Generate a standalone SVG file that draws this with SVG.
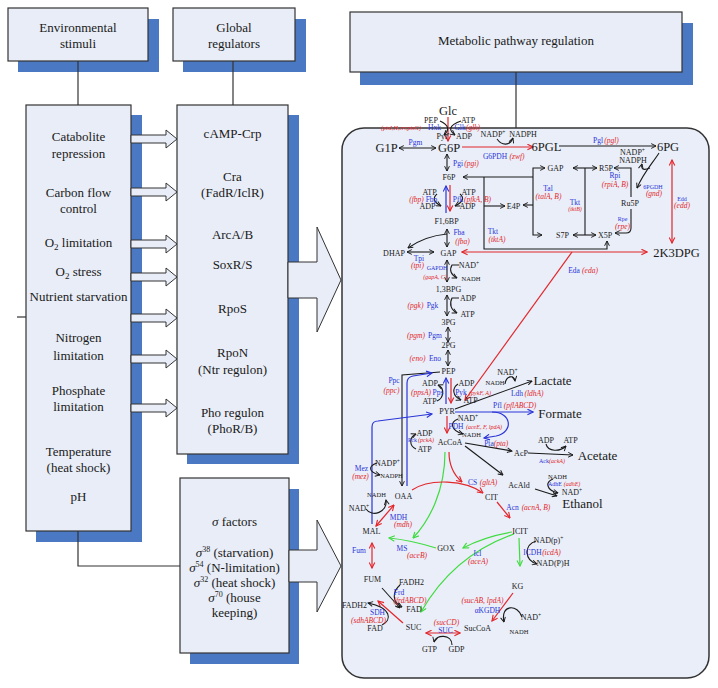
<svg xmlns="http://www.w3.org/2000/svg" width="718" height="688" viewBox="0 0 718 688" font-family="'Liberation Serif', 'DejaVu Serif', serif">
<defs>
<style>
text{font-family:'Liberation Serif','DejaVu Serif',serif;fill:#1a1a1a;text-anchor:middle}
.L{font-size:13px}
.B{font-size:12.5px}
.X{font-size:13px}
.m{font-size:8px}
.s{font-size:6.5px}
.e{font-size:7.5px;fill:#2b35d8}
.es{font-size:6px;fill:#2b35d8}
.g{font-size:7.5px;fill:#e3262b;font-style:italic}
.gs{font-size:6px;fill:#e3262b;font-style:italic}
.box{fill:#e8edf7;stroke:#333;stroke-width:1.2}
.sh{fill:#4a78c2}
.panel{fill:#e9eef8;stroke:#333;stroke-width:1.5}
.ln{stroke:#333;stroke-width:1.2;fill:none}
.k{stroke:#1a1a1a;stroke-width:1.1;fill:none}
.r{stroke:#e3262b;stroke-width:1.2;fill:none}
.b{stroke:#2b35d8;stroke-width:1.2;fill:none}
.gr{stroke:#3fdc3f;stroke-width:1.2;fill:none}
.ha{fill:#e8edf7;stroke:#333;stroke-width:1}
</style>
<marker id="ak" viewBox="0 0 10 10" refX="9" refY="5" markerWidth="6" markerHeight="6" orient="auto-start-reverse" markerUnits="userSpaceOnUse"><path d="M1,1 L9,5 L1,9" fill="none" stroke="#1a1a1a" stroke-width="1.6"/></marker>
<marker id="ar" viewBox="0 0 10 10" refX="9" refY="5" markerWidth="7" markerHeight="7" orient="auto-start-reverse" markerUnits="userSpaceOnUse"><path d="M1,1 L9,5 L1,9" fill="none" stroke="#e3262b" stroke-width="1.6"/></marker>
<marker id="ab" viewBox="0 0 10 10" refX="9" refY="5" markerWidth="7" markerHeight="7" orient="auto-start-reverse" markerUnits="userSpaceOnUse"><path d="M1,1 L9,5 L1,9" fill="none" stroke="#2b35d8" stroke-width="1.6"/></marker>
<marker id="ag" viewBox="0 0 10 10" refX="9" refY="5" markerWidth="7" markerHeight="7" orient="auto-start-reverse" markerUnits="userSpaceOnUse"><path d="M1,1 L9,5 L1,9" fill="none" stroke="#3fdc3f" stroke-width="1.6"/></marker>
</defs>

<g id="shadows">
<rect class="sh" x="18" y="19" width="141" height="53"/>
<rect class="sh" x="183" y="19" width="123" height="53"/>
<rect class="sh" x="360" y="23" width="333" height="62"/>
<rect class="sh" x="36" y="115" width="106" height="427"/>
<rect class="sh" x="187" y="115" width="112" height="349"/>
<rect class="sh" x="190" y="489" width="109" height="175"/>
</g>

<g id="connectors-left">
<line class="ln" x1="78" y1="61" x2="78" y2="105"/>
<line class="ln" x1="233" y1="61" x2="233" y2="105"/>
<line class="ln" x1="516" y1="72" x2="516" y2="128"/>
<polyline class="ln" points="78,531 78,566 180,566"/>
<line class="ln" x1="17" y1="317" x2="26" y2="317"/>
</g>

<g id="env-title"><rect class="box" x="8" y="8" width="140" height="53"/>
<text class="L" x="78" y="32">Environmental</text><text class="L" x="78" y="48">stimuli</text></g>
<g id="glob-title"><rect class="box" x="173" y="8" width="122" height="53"/>
<text class="L" x="234" y="32">Global</text><text class="L" x="234" y="48">regulators</text></g>
<g id="met-title"><rect class="box" x="350" y="12" width="332" height="60"/>
<text class="L" x="516" y="45">Metabolic pathway regulation</text></g>

<g id="stimuli"><rect class="box" x="26" y="105" width="105" height="426"/>
<text class="L" x="78.5" y="141">Catabolite</text>
<text class="L" x="78.5" y="158">repression</text>
<text class="L" x="78.5" y="197">Carbon flow</text>
<text class="L" x="78.5" y="213">control</text>
<text class="L" x="78.5" y="247">O<tspan font-size="9" dy="3">2</tspan><tspan dy="-3"> limitation</tspan></text>
<text class="L" x="78.5" y="276">O<tspan font-size="9" dy="3">2</tspan><tspan dy="-3"> stress</tspan></text>
<text class="L" x="78.5" y="301">Nutrient starvation</text>
<text class="L" x="78.5" y="342">Nitrogen</text>
<text class="L" x="78.5" y="360">limitation</text>
<text class="L" x="78.5" y="395">Phosphate</text>
<text class="L" x="78.5" y="411">limitation</text>
<text class="L" x="78.5" y="456">Temperature</text>
<text class="L" x="78.5" y="472">(heat shock)</text>
<text class="L" x="78.5" y="501">pH</text>
</g>

<g id="regulators"><rect class="box" x="177" y="105" width="111" height="349"/>
<text class="L" x="232.5" y="138">cAMP-Crp</text>
<text class="L" x="232.5" y="181">Cra</text>
<text class="L" x="232.5" y="197">(FadR/IclR)</text>
<text class="L" x="232.5" y="239">ArcA/B</text>
<text class="L" x="232.5" y="269">SoxR/S</text>
<text class="L" x="232.5" y="313">RpoS</text>
<text class="L" x="232.5" y="357">RpoN</text>
<text class="L" x="232.5" y="374">(Ntr regulon)</text>
<text class="L" x="232.5" y="417">Pho regulon</text>
<text class="L" x="232.5" y="433">(PhoR/B)</text>
</g>

<g id="sigma"><rect class="box" x="180" y="478" width="109" height="175"/>
<text class="L" x="234.5" y="526"><tspan font-style="italic">σ</tspan> factors</text>
<text class="L" x="234.5" y="557"><tspan font-style="italic">σ</tspan><tspan font-size="8" dy="-5">38</tspan><tspan dy="5"> (starvation)</tspan></text>
<text class="L" x="234.5" y="572"><tspan font-style="italic">σ</tspan><tspan font-size="8" dy="-5">54</tspan><tspan dy="5"> (N-limitation)</tspan></text>
<text class="L" x="234.5" y="587"><tspan font-style="italic">σ</tspan><tspan font-size="8" dy="-5">32</tspan><tspan dy="5"> (heat shock)</tspan></text>
<text class="L" x="234.5" y="602"><tspan font-style="italic">σ</tspan><tspan font-size="8" dy="-5">70</tspan><tspan dy="5"> (house</tspan></text>
<text class="L" x="234.5" y="617">keeping)</text>
</g>

<g id="hollow-arrows">
<polygon class="ha" points="131,135 166,135 166,130 177,139 166,148 166,143 131,143"/>
<polygon class="ha" points="131,188 166,188 166,183 177,192 166,201 166,196 131,196"/>
<polygon class="ha" points="131,240 166,240 166,235 177,244 166,253 166,248 131,248"/>
<polygon class="ha" points="131,273 166,273 166,268 177,277 166,286 166,281 131,281"/>
<polygon class="ha" points="131,314 166,314 166,309 177,318 166,327 166,322 131,322"/>
<polygon class="ha" points="131,355 166,355 166,350 177,359 166,368 166,363 131,363"/>
<polygon class="ha" points="131,404 166,404 166,399 177,408 166,417 166,412 131,412"/>
<polygon class="ha" points="288,262 317,262 317,227 341,280 317,332 317,298 288,298"/>
<polygon class="ha" points="289,550 317,550 317,520 341,566 317,612 317,582 289,582"/>
</g>

<g id="pathway-panel"><rect class="panel" x="342" y="128" width="367" height="550" rx="22"/></g>

<g id="connectors">
<line class="r" x1="448" y1="117" x2="448" y2="141" marker-end="url(#ar)"/>
<path class="k" d="M440 121 Q453 127 444 135" marker-end="url(#ak)"/>
<path class="k" d="M461 121 Q444 127 455 135" marker-end="url(#ak)"/>
<line class="k" x1="399" y1="148" x2="436" y2="148" marker-start="url(#ak)" marker-end="url(#ak)"/>
<line class="r" x1="462" y1="147" x2="533" y2="147" marker-end="url(#ar)"/>
<path class="k" d="M497 139 C502 146 510 146 513 138" marker-end="url(#ak)"/>
<line class="k" x1="559" y1="146" x2="656" y2="146" marker-end="url(#ak)"/>
<path class="k" d="M659 153 C652 164 644 172 637 188" marker-end="url(#ak)"/>
<path class="k" d="M650 168 Q640 172 642 164" marker-end="url(#ak)"/>
<line class="r" x1="672" y1="160" x2="672" y2="243" marker-start="url(#ar)" marker-end="url(#ar)"/>
<line class="k" x1="573" y1="168" x2="597" y2="168" marker-start="url(#ak)" marker-end="url(#ak)"/>
<line class="k" x1="585" y1="168" x2="585" y2="235"/>
<line class="k" x1="573" y1="235" x2="596" y2="235" marker-start="url(#ak)" marker-end="url(#ak)"/>
<path class="k" d="M545 168 L533 168 L533 235 L542 235" marker-start="url(#ak)" marker-end="url(#ak)"/>
<line class="k" x1="533" y1="177" x2="463" y2="177" marker-end="url(#ak)"/>
<line class="k" x1="533" y1="205" x2="523" y2="205" marker-end="url(#ak)"/>
<path class="k" d="M484 177 L484 249 L607 249 L607 241" marker-end="url(#ak)"/>
<line class="k" x1="484" y1="206" x2="505" y2="206" marker-end="url(#ak)"/>
<path class="k" d="M631 197 L631 168 L614 168" marker-end="url(#ak)"/>
<path class="k" d="M631 209 L631 228 Q631 233 626 233 L615 233" marker-end="url(#ak)"/>
<line class="r" x1="462" y1="252" x2="647" y2="252" marker-start="url(#ar)" marker-end="url(#ar)"/>
<line class="r" x1="572" y1="252" x2="465" y2="400" marker-end="url(#ar)"/>
<line class="k" x1="447" y1="154" x2="447" y2="171" marker-start="url(#ak)" marker-end="url(#ak)"/>
<line class="r" x1="450" y1="185" x2="450" y2="211" marker-end="url(#ar)"/>
<line class="b" x1="446" y1="213" x2="446" y2="186" marker-end="url(#ab)"/>
<path class="k" d="M437 194 Q430 200 441 206" marker-end="url(#ak)"/>
<path class="k" d="M460 194 Q467 200 455 206" marker-end="url(#ak)"/>
<line class="k" x1="447" y1="229" x2="447" y2="247" marker-start="url(#ak)" marker-end="url(#ak)"/>
<path class="k" d="M447 234 Q425 236 408 248" marker-end="url(#ak)"/>
<line class="k" x1="407" y1="252" x2="434" y2="252" marker-start="url(#ak)" marker-end="url(#ak)"/>
<line class="k" x1="447" y1="260" x2="447" y2="282" marker-start="url(#ak)" marker-end="url(#ak)"/>
<path class="k" d="M459 265 L452 265 C449 270 451 275 457 278" marker-end="url(#ak)"/>
<line class="k" x1="447" y1="295" x2="447" y2="316" marker-start="url(#ak)" marker-end="url(#ak)"/>
<path class="k" d="M459 298 L452 298 C449 304 451 310 457 313" marker-end="url(#ak)"/>
<line class="k" x1="448" y1="327" x2="448" y2="342" marker-start="url(#ak)" marker-end="url(#ak)"/>
<line class="k" x1="448" y1="350" x2="448" y2="366" marker-start="url(#ak)" marker-end="url(#ak)"/>
<line class="r" x1="451" y1="378" x2="451" y2="403" marker-end="url(#ar)"/>
<line class="b" x1="446" y1="404" x2="446" y2="378" marker-end="url(#ab)"/>
<path class="k" d="M437 401 C444 398 445 388 438 385" marker-end="url(#ak)"/>
<path class="k" d="M458 384 C452 388 452 396 461 400" marker-end="url(#ak)"/>
<path class="k" d="M440 372 L402 375 L402 486" marker-end="url(#ak)"/>
<path class="b" d="M407 486 L407 383 Q407 377 413 376 L432 373" marker-end="url(#ab)"/>
<path class="k" d="M416 449 C409 446 409 437 416 434" marker-end="url(#ak)"/>
<path class="b" d="M372 524 L372 427 Q372 421 378 421 L432 414" marker-end="url(#ab)"/>
<path class="k" d="M377 463 C368 466 368 472 380 475" marker-end="url(#ak)"/>
<line class="r" x1="447" y1="416" x2="447" y2="433" marker-end="url(#ar)"/>
<path class="k" d="M458 419 C450 422 450 430 463 434" marker-end="url(#ak)"/>
<line class="k" x1="455" y1="409" x2="532" y2="381" marker-end="url(#ak)"/>
<path class="k" d="M505 384 C506 376 514 374 515 381" marker-end="url(#ak)"/>
<line class="b" x1="455" y1="412" x2="533" y2="412" marker-end="url(#ab)"/>
<path class="b" d="M492 412 C512 412 514 432 496 436 L484 438" marker-end="url(#ab)"/>
<line class="k" x1="465" y1="443" x2="512" y2="451" marker-end="url(#ak)"/>
<line class="k" x1="528" y1="453" x2="573" y2="455" marker-end="url(#ak)"/>
<path class="k" d="M546 444 C548 452 560 452 566 446" marker-end="url(#ak)"/>
<line class="k" x1="465" y1="446" x2="503" y2="475" marker-end="url(#ak)"/>
<line class="k" x1="535" y1="489" x2="557" y2="496" marker-end="url(#ak)"/>
<path class="k" d="M553 479 C545 482 546 490 558 493" marker-end="url(#ak)"/>
<path class="r" d="M449 452 C449 468 455 476 462 482" marker-end="url(#ar)"/>
<path class="gr" d="M445 452 C445 490 430 520 413 538" marker-end="url(#ag)"/>
<path class="r" d="M412 490 C430 478 465 480 483 493" marker-end="url(#ar)"/>
<line class="r" x1="497" y1="502" x2="510" y2="518" marker-end="url(#ar)"/>
<path class="gr" d="M512 532 C495 535 478 540 463 548" marker-end="url(#ag)"/>
<path class="gr" d="M514 534 C480 546 445 570 421 612" marker-end="url(#ag)"/>
<path class="gr" d="M436 548 Q410 540 389 538" marker-end="url(#ag)"/>
<line class="gr" x1="519" y1="538" x2="520" y2="566" marker-end="url(#ag)"/>
<path class="k" d="M536 541 C524 545 524 560 537 564" marker-end="url(#ak)"/>
<line class="r" x1="513" y1="593" x2="492" y2="621" marker-end="url(#ar)"/>
<path class="k" d="M522 617 C518 604 500 604 504 622" marker-end="url(#ak)"/>
<line class="r" x1="460" y1="633" x2="426" y2="633" marker-start="url(#ar)" marker-end="url(#ar)"/>
<path class="k" d="M452 645 C452 634 436 634 434 642" marker-end="url(#ak)"/>
<line class="r" x1="403" y1="623" x2="378" y2="601" marker-end="url(#ar)"/>
<line class="k" x1="382" y1="588" x2="400" y2="608" marker-end="url(#ak)"/>
<path class="k" d="M400 585 C392 592 392 602 402 607" marker-end="url(#ak)"/>
<path class="k" d="M382 625 C392 620 392 608 368 603" marker-end="url(#ak)"/>
<line class="r" x1="372" y1="543" x2="372" y2="568" marker-start="url(#ar)" marker-end="url(#ar)"/>
<line class="r" x1="376" y1="526" x2="394" y2="505" marker-start="url(#ar)" marker-end="url(#ar)"/>
<path class="k" d="M366 509 C372 518 388 512 386 500" marker-end="url(#ak)"/>
</g>

<g id="metabolites">
<text class="B" x="448" y="115">Glc</text>
<text class="m" x="431" y="123">PEP</text>
<text class="m" x="468" y="123">ATP</text>
<text class="m" x="442" y="139">Pyr</text>
<text class="m" x="464" y="139">ADP</text>
<text class="B" x="386.5" y="152">G1P</text>
<text class="B" x="449" y="152">G6P</text>
<text class="m" x="493" y="137">NADP<tspan dy="-3" font-size="5.5">+</tspan></text>
<text class="m" x="523" y="137">NADPH</text>
<text class="B" x="546.5" y="151">6PGL</text>
<text class="B" x="668" y="151">6PG</text>
<text class="m" x="632.5" y="155">NADP<tspan dy="-3" font-size="5.5">+</tspan></text>
<text class="m" x="633" y="163">NADPH</text>
<text class="m" x="555.5" y="171">GAP</text>
<text class="m" x="606" y="171">R5P</text>
<text class="m" x="630" y="206">Ru5P</text>
<text class="m" x="562.5" y="238">S7P</text>
<text class="m" x="605" y="238">X5P</text>
<text class="B" x="676.5" y="257">2K3DPG</text>
<text class="m" x="449" y="180">F6P</text>
<text class="m" x="513.5" y="209">E4P</text>
<text class="m" x="429.5" y="195">ATP</text>
<text class="m" x="468.5" y="195">ATP</text>
<text class="m" x="427.5" y="209">ADP</text>
<text class="m" x="467.5" y="209">ADP</text>
<text class="m" x="446.5" y="224">F1,6BP</text>
<text class="m" x="394" y="256">DHAP</text>
<text class="m" x="448.5" y="256">GAP</text>
<text class="m" x="469" y="268">NAD<tspan dy="-3" font-size="5.5">+</tspan></text>
<text class="s" x="471" y="281">NADH</text>
<text class="m" x="448.5" y="292">1,3BPG</text>
<text class="m" x="468" y="301">ADP</text>
<text class="m" x="467.5" y="317">ATP</text>
<text class="m" x="448.5" y="325">3PG</text>
<text class="m" x="448.5" y="348">2PG</text>
<text class="m" x="448.5" y="374">PEP</text>
<text class="m" x="430" y="386">ADP</text>
<text class="m" x="429.5" y="404">ATP</text>
<text class="m" x="466.5" y="386">ADP</text>
<text class="m" x="470.5" y="403">ATP</text>
<text class="m" x="447" y="414">PYR</text>
<text class="m" x="507.5" y="375">NAD<tspan dy="-3" font-size="5.5">+</tspan></text>
<text class="s" x="495" y="385">NADH</text>
<text class="X" x="552.5" y="385">Lactate</text>
<text class="X" x="560" y="418">Formate</text>
<text class="m" x="468" y="421">NAD<tspan dy="-3" font-size="5.5">+</tspan></text>
<text class="s" x="471.5" y="437">NADH</text>
<text class="m" x="450" y="445">AcCoA</text>
<text class="m" x="424.5" y="436">ADP</text>
<text class="m" x="424.5" y="452">ATP</text>
<text class="m" x="521" y="456">AcP</text>
<text class="m" x="546" y="443">ADP</text>
<text class="m" x="570.5" y="443">ATP</text>
<text class="X" x="597.5" y="460">Acetate</text>
<text class="m" x="519" y="488">AcAld</text>
<text class="s" x="557.5" y="479">NADH</text>
<text class="m" x="572" y="495">NAD<tspan dy="-3" font-size="5.5">+</tspan></text>
<text class="X" x="582.5" y="508">Ethanol</text>
<text class="m" x="387.5" y="466">NADP<tspan dy="-3" font-size="5.5">+</tspan></text>
<text class="s" x="391.5" y="478">NADPH</text>
<text class="m" x="403.5" y="499">OAA</text>
<text class="m" x="491.5" y="500">CIT</text>
<text class="s" x="376.5" y="497">NADH</text>
<text class="m" x="359" y="511">NAD<tspan dy="-3" font-size="5.5">+</tspan></text>
<text class="m" x="371.5" y="534">MAL</text>
<text class="m" x="520" y="534">ICIT</text>
<text class="m" x="548.5" y="543">NAD(p)<tspan dy="-3" font-size="5.5">+</tspan></text>
<text class="m" x="553" y="566">NAD(P)H</text>
<text class="m" x="446" y="551">GOX</text>
<text class="m" x="372.5" y="582">FUM</text>
<text class="m" x="411.5" y="585">FADH2</text>
<text class="m" x="414" y="612">FAD</text>
<text class="m" x="517.5" y="589">KG</text>
<text class="m" x="354.5" y="608">FADH2</text>
<text class="m" x="375" y="631">FAD</text>
<text class="m" x="531" y="620">NAD<tspan dy="-3" font-size="5.5">+</tspan></text>
<text class="s" x="519" y="634">NADH</text>
<text class="m" x="413.5" y="630">SUC</text>
<text class="m" x="477.5" y="631">SucCoA</text>
<text class="m" x="429.5" y="652">GTP</text>
<text class="m" x="456.5" y="652">GDP</text>
</g>

<g id="enzymes">
<text class="gs" x="401" y="130">(ptsI,H,crr,ptsG)</text>
<text class="e" x="434.5" y="130">Hxk</text>
<text class="e" x="460" y="130">Glk</text>
<text class="g" x="473" y="130">(glk)</text>
<text class="e" x="415.5" y="145">Pgm</text>
<text class="e" x="495" y="159">G6PDH</text>
<text class="g" x="517" y="159">(zwf)</text>
<text class="e" x="598" y="143">Pgl</text>
<text class="g" x="611.5" y="143">(pgl)</text>
<text class="e" x="615" y="178">Rpi</text>
<text class="g" x="615" y="187">(rpiA, B)</text>
<text class="es" x="653" y="189">6PGDH</text>
<text class="g" x="654" y="196">(gnd)</text>
<text class="es" x="682" y="201">Edd</text>
<text class="g" x="682" y="208">(edd)</text>
<text class="e" x="548" y="191">Tal</text>
<text class="g" x="548.5" y="199">(talA, B)</text>
<text class="e" x="575" y="205">Tkt</text>
<text class="gs" x="575" y="211">(tktB)</text>
<text class="es" x="622.5" y="221">Rpe</text>
<text class="g" x="622.5" y="229">(rpe)</text>
<text class="e" x="574" y="273">Eda</text>
<text class="g" x="590" y="273">(eda)</text>
<text class="e" x="458" y="166">Pgi</text>
<text class="g" x="471.5" y="166">(pgi)</text>
<text class="g" x="416.5" y="202">(fbp)</text>
<text class="e" x="431.5" y="202">Fbp</text>
<text class="e" x="458" y="202">Pfk</text>
<text class="g" x="477.5" y="202">(pfkA, B)</text>
<text class="e" x="459" y="235">Fba</text>
<text class="g" x="462.5" y="244">(fba)</text>
<text class="e" x="493" y="234">Tkt</text>
<text class="g" x="497" y="242">(tktA)</text>
<text class="e" x="419" y="261">Tpi</text>
<text class="g" x="417.5" y="268">(tpi)</text>
<text class="es" x="437" y="270">GAPDH</text>
<text class="gs" x="435" y="279">(gapA, C)</text>
<text class="g" x="415.5" y="308">(pgk)</text>
<text class="e" x="432.5" y="308">Pgk</text>
<text class="g" x="416" y="338">(pgm)</text>
<text class="e" x="435" y="338">Pgm</text>
<text class="g" x="417.5" y="361">(eno)</text>
<text class="e" x="435" y="361">Eno</text>
<text class="e" x="394" y="383">Ppc</text>
<text class="g" x="391.5" y="393">(ppc)</text>
<text class="g" x="421" y="395">(ppsA)</text>
<text class="e" x="438" y="395">Pps</text>
<text class="e" x="461" y="395">Pyk</text>
<text class="gs" x="480" y="395">(pykF, A)</text>
<text class="e" x="517" y="396">Ldh</text>
<text class="g" x="534" y="396">(ldhA)</text>
<text class="e" x="497.5" y="408">Pfl</text>
<text class="g" x="520" y="408">(pflABCD)</text>
<text class="e" x="456" y="429">PDH</text>
<text class="gs" x="484" y="429">(aceE, F, lpdA)</text>
<text class="e" x="489" y="446">Pta</text>
<text class="g" x="501" y="446">(pta)</text>
<text class="es" x="412.5" y="442">Pck</text>
<text class="gs" x="426" y="442">(pckA)</text>
<text class="es" x="544" y="463">Ack</text>
<text class="gs" x="557" y="463">(ackA)</text>
<text class="es" x="555" y="486">AdhE</text>
<text class="gs" x="572" y="486">(adhE)</text>
<text class="e" x="361.5" y="471">Mez</text>
<text class="g" x="360.5" y="479">(mez)</text>
<text class="e" x="472.5" y="485">CS</text>
<text class="g" x="488.5" y="485">(gltA)</text>
<text class="e" x="398.5" y="520">MDH</text>
<text class="g" x="403" y="527">(mdh)</text>
<text class="e" x="512.5" y="510">Acn</text>
<text class="g" x="536" y="510">(acnA, B)</text>
<text class="e" x="532.5" y="555">ICDH</text>
<text class="g" x="551.5" y="555">(icdA)</text>
<text class="e" x="359" y="553">Fum</text>
<text class="e" x="402" y="551">MS</text>
<text class="g" x="417" y="558">(aceB)</text>
<text class="e" x="477.5" y="556">Icl</text>
<text class="g" x="478" y="564">(aceA)</text>
<text class="e" x="399" y="595">Frd</text>
<text class="g" x="410" y="603">(frdABCD)</text>
<text class="e" x="377.5" y="615">SDH</text>
<text class="g" x="368.5" y="623">(sdhABCD)</text>
<text class="g" x="482.5" y="603">(sucAB, lpdA)</text>
<text class="e" x="487.5" y="613">αKGDH</text>
<text class="g" x="446.5" y="625">(sucCD)</text>
<text class="e" x="445.5" y="633">SUC</text>
</g>
</svg>
